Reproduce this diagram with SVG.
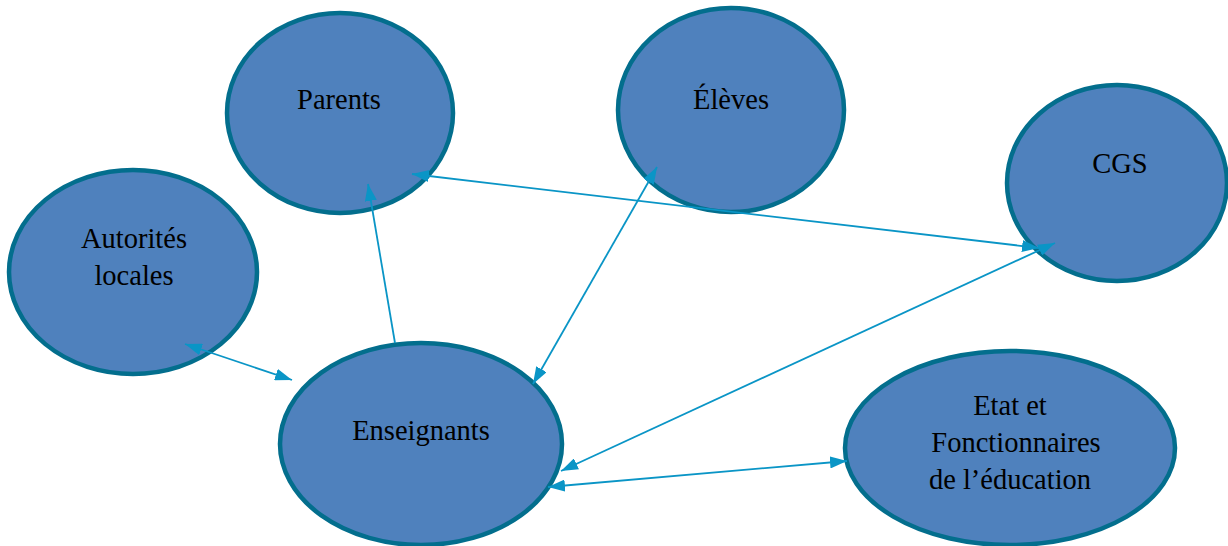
<svg xmlns="http://www.w3.org/2000/svg" width="1228" height="546" viewBox="0 0 1228 546">
<defs>
<style>
.node ellipse{fill:#4f81bd;stroke:#036e8d;stroke-width:4.5}
.node text{font-family:"Liberation Serif","Times New Roman","DejaVu Serif",serif;font-size:28.5px;fill:#000;text-anchor:middle}
.conn line{stroke:#0a95c6;stroke-width:1.8;fill:none}
</style>
<marker id="ah" viewBox="0 0 17 12" refX="17" refY="6" markerWidth="17" markerHeight="12" markerUnits="userSpaceOnUse" orient="auto-start-reverse">
<path d="M0,0 L17,6 L0,12 z" fill="#0a95c6"/>
</marker>
</defs>
<rect width="1228" height="546" fill="#fff"/>
<g id="n-parents" class="node"><ellipse cx="340" cy="113" rx="113" ry="100"/><text x="339" y="109">Parents</text></g>
<g id="n-eleves" class="node"><ellipse cx="731" cy="110" rx="113" ry="102"/><text x="731" y="109">Élèves</text></g>
<g id="n-cgs" class="node"><ellipse cx="1117" cy="183" rx="110" ry="98"/><text x="1120" y="173">CGS</text></g>
<g id="n-autorites" class="node"><ellipse cx="133" cy="272" rx="124" ry="102"/><text x="134" y="248">Autorités</text><text x="134" y="285">locales</text></g>
<g id="n-enseignants" class="node"><ellipse cx="421" cy="444" rx="141" ry="101"/><text x="421" y="440">Enseignants</text></g>
<g id="n-etat" class="node"><ellipse cx="1010" cy="448" rx="165" ry="97"/><text x="1010" y="415">Etat et</text><text x="1016" y="452">Fonctionnaires</text><text x="1010" y="489">de l’éducation</text></g>
<g id="connectors" class="conn">
<line x1="412" y1="174" x2="1039" y2="248" marker-start="url(#ah)" marker-end="url(#ah)"/>
<line x1="657" y1="167" x2="533" y2="384" marker-start="url(#ah)" marker-end="url(#ah)"/>
<line x1="395" y1="343" x2="368" y2="184" marker-end="url(#ah)"/>
<line x1="185" y1="344" x2="292" y2="380" marker-start="url(#ah)" marker-end="url(#ah)"/>
<line x1="1055" y1="243" x2="561" y2="471" marker-start="url(#ah)" marker-end="url(#ah)"/>
<line x1="548" y1="487" x2="847" y2="461" marker-start="url(#ah)" marker-end="url(#ah)"/>
</g>
</svg>
